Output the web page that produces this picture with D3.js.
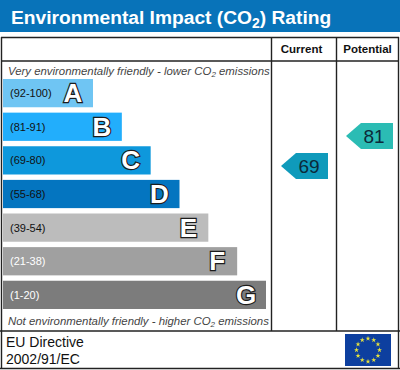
<!DOCTYPE html>
<html>
<head>
<meta charset="utf-8">
<style>
  html, body { margin: 0; padding: 0; background: #fff; }
  svg { display: block; }
  text { font-family: "Liberation Sans", Arial, sans-serif; }
</style>
<script src="https://cdn.jsdelivr.net/npm/d3@7"></script>
</head>
<body>
<svg id="chart" width="400" height="370"></svg>
<script>
const bands = ['A', 'B', 'C', 'D', 'E', 'F', 'G'];
const ranges = ['(92-100)', '(81-91)', '(69-80)', '(55-68)', '(39-54)', '(21-38)', '(1-20)'];
const bandColors = ['#6fc5f3', '#22aefc', '#0e98dc', '#0475c0', '#bcbcbc', '#a0a0a0', '#7c7c7c'];
const rangeColors = ['#111', '#111', '#111', '#111', '#111', '#fff', '#fff'];
const scores = [69, 81];
const scoreColumns = ['Current', 'Potential'];
const scoreColors = ['#0f9abb', '#2bbcb4'];
const euStars = d3.range(12);

const svg = d3.select('#chart');

// Scales
const rowY = d3.scaleBand().domain(bands).range([78, 310]).paddingInner(0.16).paddingOuter(0.03);
const barEnd = d3.scalePoint().domain(bands).range([93, 266]);
const scoreY = d3.scaleLinear().domain([81, 69]).range([136, 166]);
const columnRight = d3.scaleOrdinal().domain(scoreColumns).range([328, 393]);

// Title band
svg.append('rect').attr('x', 0).attr('y', 0).attr('width', 400).attr('height', 32).attr('fill', '#0873b9');
const title = svg.append('text')
  .attr('x', 11).attr('y', 23.5)
  .attr('fill', '#fff')
  .attr('font-size', 19.2)
  .attr('font-weight', 'bold');
title.append('tspan').text('Environmental Impact (CO');
title.append('tspan').attr('font-size', 14).attr('dy', 4).text('2');
title.append('tspan').attr('dy', -4).text(') Rating');

// Table frame
const frame = [
  [1, 37.5, 399, 37.5], [1, 61, 399, 61], [0, 331, 400, 331], [0, 368.5, 400, 368.5],
  [1.5, 37, 1.5, 369], [271.5, 37, 271.5, 331], [336.5, 37, 336.5, 331], [398.5, 37, 398.5, 369]
];
svg.selectAll('line.frame')
  .data(frame)
  .join('line')
  .attr('class', 'frame')
  .attr('x1', d => d[0]).attr('y1', d => d[1])
  .attr('x2', d => d[2]).attr('y2', d => d[3])
  .attr('stroke', '#222')
  .attr('stroke-width', 1.4);

svg.selectAll('text.column')
  .data(scoreColumns)
  .join('text')
  .attr('class', 'column')
  .attr('x', (d, i) => i === 0 ? 301.5 : 367.5)
  .attr('y', 53)
  .attr('text-anchor', 'middle')
  .attr('font-size', 11.5)
  .attr('font-weight', 'bold')
  .attr('fill', '#111')
  .text(d => d);

// Italic notes above and below the bars
function note(y, text) {
  const t = svg.append('text')
    .attr('x', 8).attr('y', y)
    .attr('font-size', 11.4)
    .attr('font-style', 'italic')
    .attr('fill', '#444');
  t.append('tspan').text(text);
  t.append('tspan').attr('font-size', 8).attr('dy', 2).text('2');
  t.append('tspan').attr('dy', -2).text(' emissions');
}
note(75, 'Very environmentally friendly - lower CO');
note(325, 'Not environmentally friendly - higher CO');

// Bars
svg.selectAll('rect.bar')
  .data(bands)
  .join('rect')
  .attr('class', 'bar')
  .attr('x', 3)
  .attr('y', d => rowY(d))
  .attr('width', d => barEnd(d) - 3)
  .attr('height', rowY.bandwidth())
  .attr('fill', (d, i) => bandColors[i]);

svg.selectAll('text.range')
  .data(ranges)
  .join('text')
  .attr('class', 'range')
  .attr('x', 10)
  .attr('y', (d, i) => rowY(bands[i]) + rowY.bandwidth() / 2 + 4)
  .attr('font-size', 11)
  .attr('fill', (d, i) => rangeColors[i])
  .text(d => d);

svg.selectAll('text.letter')
  .data(bands)
  .join('text')
  .attr('class', 'letter')
  .attr('x', d => barEnd(d) - 20)
  .attr('y', d => rowY(d) + rowY.bandwidth() / 2 + 9)
  .attr('text-anchor', 'middle')
  .attr('font-size', 26)
  .attr('font-weight', 'bold')
  .attr('fill', '#fff')
  .attr('stroke', '#1c1c1c')
  .attr('stroke-width', 2.4)
  .attr('paint-order', 'stroke')
  .text(d => d);

// Score arrows
const arrow = svg.selectAll('g.score')
  .data(scores)
  .join('g')
  .attr('class', 'score')
  .attr('transform', (d, i) => `translate(${columnRight(scoreColumns[i])},${scoreY(d)})`);

arrow.append('path')
  .attr('d', 'M0,-13H-32L-47,0L-32,13H0Z')
  .attr('fill', (d, i) => scoreColors[i]);

arrow.append('text')
  .attr('x', -19)
  .attr('y', 7)
  .attr('text-anchor', 'middle')
  .attr('font-size', 19)
  .attr('fill', '#0b2a3a')
  .text(d => d);

// Footer
svg.selectAll('text.directive')
  .data(['EU Directive', '2002/91/EC'])
  .join('text')
  .attr('class', 'directive')
  .attr('x', 6)
  .attr('y', (d, i) => 347 + i * 17)
  .attr('font-size', 14)
  .attr('fill', '#111')
  .text(d => d);

svg.append('rect').attr('x', 345).attr('y', 334).attr('width', 46).attr('height', 32).attr('fill', '#0d3f9f');
svg.selectAll('path.star')
  .data(euStars)
  .join('path')
  .attr('class', 'star')
  .attr('d', d3.symbol(d3.symbolStar, 8))
  .attr('transform', d => {
    const a = d / 12 * 2 * Math.PI;
    return `translate(${368 + 11.5 * Math.sin(a)},${350 - 11.5 * Math.cos(a)})`;
  })
  .attr('fill', '#e6e23c');
</script>
</body>
</html>
